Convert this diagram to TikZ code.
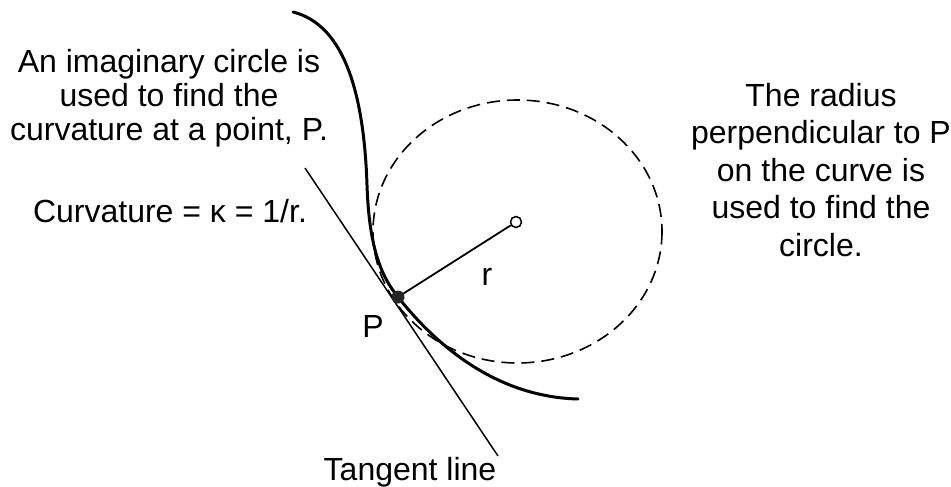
\documentclass[tikz,border=0pt]{standalone}
\usepackage{fontspec}
\setmainfont{Liberation Sans}
\usetikzlibrary{positioning}

\tikzset{
  label text/.style={font=\fontsize{32}{34}\selectfont, align=center, inner sep=0pt, anchor=base},
  wide text/.style={font=\fontsize{32}{37.5}\selectfont, align=center, inner sep=0pt, anchor=base},
  curve line/.style={line width=3pt, line cap=round},
  thin line/.style={line width=1.5pt},
  circle line/.style={line width=1.6pt, dash pattern=on 13pt off 7pt}
}

\begin{document}
\begin{tikzpicture}[x=1pt, y=-1pt]
  \useasboundingbox (0,0) rectangle (951,487);
  % points on the figure
  \coordinate (P) at (398,297);
  \coordinate (top) at (293,12);
  \coordinate (bend) at (367,185);
  \coordinate (tail) at (578,399);
  \coordinate (tanA) at (305,168);
  \coordinate (tanB) at (498,456);
  \node[circle, draw, thin line, minimum size=11pt, inner sep=0pt] (ctr) at (516,222) {};
  % imaginary circle
  \draw[circle line] (517.5,231.5) ellipse (144.5 and 131.5);
  % the curve
  \draw[curve line] (top) .. controls (345,25) and (364,95) .. (bend)
    .. controls (369,245) and (380,275) .. (P)
    .. controls (440,350) and (500,397) .. (tail);
  % tangent and radius
  \draw[thin line] (tanA) -- (tanB);
  \draw[line width=1.8pt] (P) -- (ctr);
  \fill[black!85] (P) circle (6.5pt);
  % labels
  \node[label text] (rlab) at (487,285) {r};
  \node[label text] (plab) at (373,337) {P};
  \node[label text] (tanlab) at (410,480) {Tangent line};
  \node[label text] (leftnote) at (169,140) {An imaginary circle is\\used to find the\\curvature at a point, P.};
  \node[label text] (kappa) at (170,222) {Curvature = κ = 1/r.};
  \node[wide text] (rightnote) at (821,256) {The radius\\perpendicular to P\\on the curve is\\used to find the\\circle.};
\end{tikzpicture}
\end{document}
